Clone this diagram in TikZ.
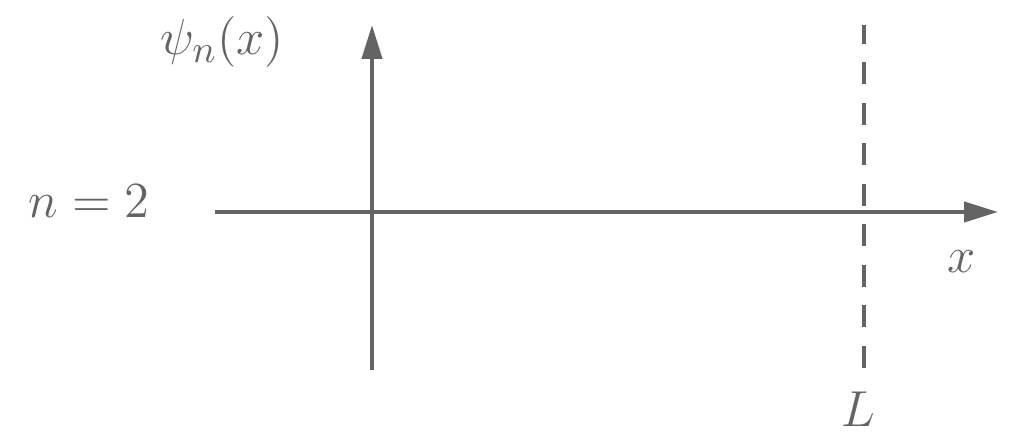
\documentclass[tikz,border=0pt]{standalone}
\usepackage{amsmath}
\usepackage{tikz}
\usetikzlibrary{arrows.meta}
\definecolor{axisgray}{HTML}{646464}
\tikzset{
  >={Triangle[length=3.4mm,width=2mm]},
}
\tikzstyle{axis}=[very thick,->,axisgray]
\tikzstyle{wall}=[very thick,axisgray,dash pattern=on 2.2mm off 1.85mm]
\tikzstyle{every node}=[font=\fontsize{15.6}{18}\selectfont,text=axisgray]

\begin{document}
\begin{tikzpicture}
    \useasboundingbox (0,0) rectangle (10.24,4.43);
    \coordinate (xstart) at (2.15,2.31);
    \coordinate (xend) at (9.98,2.31);
    \coordinate (ystart) at (3.72,0.73);
    \coordinate (yend) at (3.72,4.18);
    \coordinate (wallbot) at (8.64,0.75);
    \coordinate (walltop) at (8.64,4.18);
    \draw[wall] (wallbot)--(walltop);
    \draw[axis] (xstart)--(xend);
    \draw[axis] (ystart)--(yend);
    \node[anchor=base] (psi) at (2.22,3.88) {$\psi_n(x)$};
    \node[anchor=base] (nlabel) at (0.89,2.25) {$n=2$};
    \node[anchor=base] (xlabel) at (9.62,1.70) {$x$};
    \node[anchor=base] (Llabel) at (8.58,0.16) {$L$};
  \end{tikzpicture}
\end{document}
